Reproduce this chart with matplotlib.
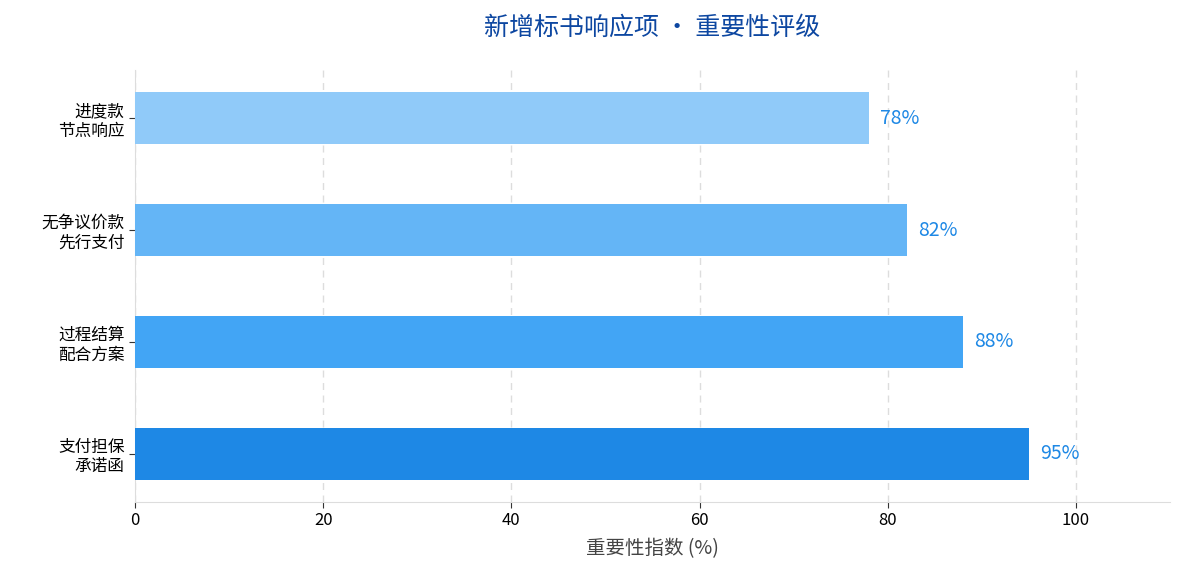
import matplotlib
matplotlib.use("Agg")
import matplotlib.pyplot as plt

plt.rcParams["font.family"] = ["Noto Sans CJK SC", "DejaVu Sans"]

categories = ["支付担保\n承诺函", "过程结算\n配合方案", "无争议价款\n先行支付", "进度款\n节点响应"]
scores = [95, 88, 82, 78]
colors = ["#1E88E5", "#42A5F5", "#64B5F6", "#90CAF9"]

fig = plt.figure(figsize=(11.85, 5.85), dpi=100)
ax = fig.add_axes([135 / 1185, 1 - 502 / 585, 1035 / 1185, 432 / 585])

ypos = range(len(categories))
ax.barh(ypos, scores, height=0.46, color=colors, zorder=3)
for y, v in zip(ypos, scores):
    ax.text(v + 1.2, y, f"{v}%", va="center", ha="left", fontsize=14, color="#1E88E5")

ax.set_yticks(list(ypos))
ax.set_yticklabels(categories, fontsize=12, linespacing=1.2)
ax.set_ylim(-0.43, 3.43)
ax.set_xlim(0, 110)
ax.set_xticks([0, 20, 40, 60, 80, 100])
ax.tick_params(axis="x", labelsize=12, length=4, color="#333333")
ax.tick_params(axis="y", length=4, color="#333333")
ax.set_xlabel("重要性指数 (%)", fontsize=14, color="#444444", labelpad=6)
ax.grid(axis="x", linestyle=(0, (5, 4)), color="#dddddd", linewidth=1, zorder=0)
for s in ["top", "right"]:
    ax.spines[s].set_visible(False)
for s in ["left", "bottom"]:
    ax.spines[s].set_color("#dddddd")

fig.text(652 / 1185, 1 - 28 / 585, "新增标书响应项 · 重要性评级", ha="center", va="center",
         fontsize=18, color="#0D47A1")

fig.savefig("out.png", dpi=100)
